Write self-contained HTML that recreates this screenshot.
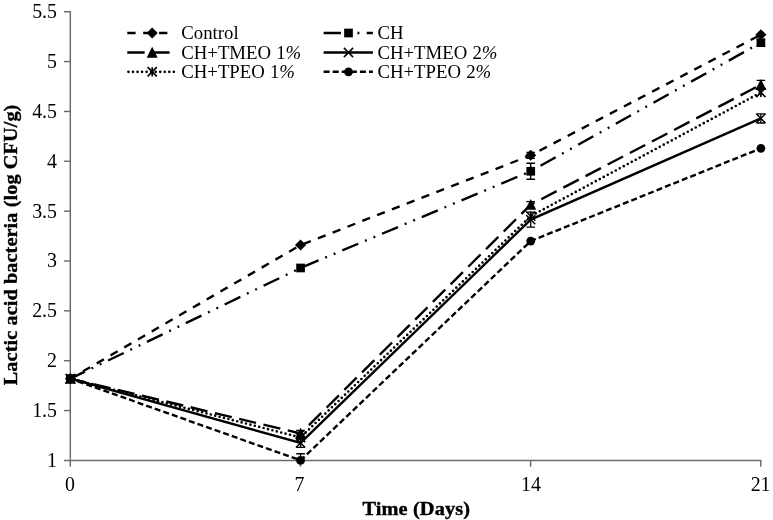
<!DOCTYPE html>
<html lang="en"><head><meta charset="utf-8"><title>Lactic acid bacteria chart</title>
<style>
html,body{margin:0;padding:0;background:#fff;}
body{width:773px;height:520px;overflow:hidden;}
svg{display:block;will-change:transform;filter:grayscale(1);}
text{font-family:"Liberation Serif","DejaVu Serif",serif;fill:#000;}
.tk text{font-size:19.9px;}
.lg{font-size:18.75px;word-spacing:0.5px;}
.tt{font-size:20.6px;font-weight:bold;stroke:#000;stroke-width:0.45px;}
.tx{font-size:19.5px;letter-spacing:0.1px;stroke-width:0.4px;}
</style></head><body>
<svg width="773" height="520" viewBox="0 0 773 520">
<rect width="773" height="520" fill="#fff"/>
<g stroke="#6c6c6c" stroke-width="1.45" fill="none">
<path d="M70.30 11.05V466.80"/>
<path d="M64.00 460.40H761.38"/>
<path d="M64.00 410.55H70.40"/>
<path d="M64.00 360.70H70.40"/>
<path d="M64.00 310.85H70.40"/>
<path d="M64.00 261.00H70.40"/>
<path d="M64.00 211.15H70.40"/>
<path d="M64.00 161.30H70.40"/>
<path d="M64.00 111.45H70.40"/>
<path d="M64.00 61.60H70.40"/>
<path d="M64.00 11.75H70.40"/>
<path d="M300.46 460.40V466.80"/>
<path d="M530.62 460.40V466.80"/>
<path d="M760.78 460.40V466.80"/>
</g>
<g class="tk">
<text x="57" y="466.80" text-anchor="end">1</text>
<text x="57" y="416.95" text-anchor="end">1.5</text>
<text x="57" y="367.10" text-anchor="end">2</text>
<text x="57" y="317.25" text-anchor="end">2.5</text>
<text x="57" y="267.40" text-anchor="end">3</text>
<text x="57" y="217.55" text-anchor="end">3.5</text>
<text x="57" y="167.70" text-anchor="end">4</text>
<text x="57" y="117.85" text-anchor="end">4.5</text>
<text x="57" y="68.00" text-anchor="end">5</text>
<text x="57" y="18.15" text-anchor="end">5.5</text>
<text x="69.90" y="491.1" text-anchor="middle">0</text>
<text x="299.56" y="491.1" text-anchor="middle">7</text>
<text x="531.02" y="491.1" text-anchor="middle">14</text>
<text x="760.58" y="491.1" text-anchor="middle">21</text>
</g>
<text class="tt tx" transform="translate(416.3 515.1) scale(1.045 1)" text-anchor="middle">Time (Days)</text>
<text class="tt tx" transform="translate(16.9 244.9) rotate(-90) scale(1.037 1)" text-anchor="middle">Lactic acid bacteria (log CFU/g)</text>
<polyline points="70.40,378.65 300.56,245.05 530.72,155.32 760.88,34.68" fill="none" stroke="#000" stroke-width="2.38" stroke-dasharray="8.28 7.61" stroke-dashoffset="1.3"/>
<polyline points="70.40,378.65 300.56,267.98 530.72,171.27 760.88,42.66" fill="none" stroke="#000" stroke-width="2.38" stroke-dasharray="17.36 7.30 1.90 7.30 1.90 7.37" stroke-dashoffset="1.3"/>
<polyline points="70.40,378.65 300.56,433.48 530.72,204.67 760.88,84.73" fill="none" stroke="#000" stroke-width="2.38" stroke-dasharray="17.36 7.61" stroke-dashoffset="1.3"/>
<polyline points="70.40,378.65 300.56,442.95 530.72,219.62 760.88,118.43" fill="none" stroke="#000" stroke-width="2.38"/>
<polyline points="70.40,378.65 300.56,437.47 530.72,216.13 760.88,92.51" fill="none" stroke="#000" stroke-width="2.65" stroke-dasharray="0 4.54" stroke-linecap="round" stroke-dashoffset="0.36"/>
<polyline points="70.40,378.65 300.56,460.40 530.72,241.06 760.88,148.34" fill="none" stroke="#000" stroke-width="2.38" stroke-dasharray="6.01 3.07" stroke-dashoffset="1.3"/>
<path d="M530.72 152.33V158.31M526.42 152.33H535.02M526.42 158.31H535.02" stroke="#000" stroke-width="1.35" fill="none"/>
<path d="M530.72 163.29V179.25M526.42 163.29H535.02M526.42 179.25H535.02" stroke="#000" stroke-width="1.35" fill="none"/>
<path d="M760.88 39.67V45.65M756.58 39.67H765.18M756.58 45.65H765.18" stroke="#000" stroke-width="1.35" fill="none"/>
<path d="M300.56 430.49V436.47M296.26 430.49H304.86M296.26 436.47H304.86" stroke="#000" stroke-width="1.35" fill="none"/>
<path d="M530.72 201.68V207.66M526.42 201.68H535.02M526.42 207.66H535.02" stroke="#000" stroke-width="1.35" fill="none"/>
<path d="M760.88 80.44V89.02M756.58 80.44H765.18M756.58 89.02H765.18" stroke="#000" stroke-width="1.35" fill="none"/>
<path d="M300.56 438.47V447.44M296.26 438.47H304.86M296.26 447.44H304.86" stroke="#000" stroke-width="1.35" fill="none"/>
<path d="M530.72 212.15V227.10M526.42 212.15H535.02M526.42 227.10H535.02" stroke="#000" stroke-width="1.35" fill="none"/>
<path d="M760.88 113.84V123.02M756.58 113.84H765.18M756.58 123.02H765.18" stroke="#000" stroke-width="1.35" fill="none"/>
<path d="M300.56 453.72V460.40M296.26 453.72H304.86" stroke="#000" stroke-width="1.35" fill="none"/>
<path d="M70.40 373.10L75.95 378.65L70.40 384.20L64.85 378.65Z" fill="#000"/>
<path d="M300.56 239.50L306.11 245.05L300.56 250.60L295.01 245.05Z" fill="#000"/>
<path d="M530.72 149.77L536.27 155.32L530.72 160.87L525.17 155.32Z" fill="#000"/>
<path d="M760.88 29.13L766.43 34.68L760.88 40.23L755.33 34.68Z" fill="#000"/>
<rect x="66.05" y="374.30" width="8.70" height="8.70" fill="#000"/>
<rect x="296.21" y="263.63" width="8.70" height="8.70" fill="#000"/>
<rect x="526.37" y="166.92" width="8.70" height="8.70" fill="#000"/>
<rect x="756.53" y="38.31" width="8.70" height="8.70" fill="#000"/>
<path d="M70.40 372.95L75.90 383.85L64.90 383.85Z" fill="#000"/>
<path d="M300.56 427.78L306.06 438.68L295.06 438.68Z" fill="#000"/>
<path d="M530.72 198.97L536.22 209.87L525.22 209.87Z" fill="#000"/>
<path d="M760.88 79.03L766.38 89.93L755.38 89.93Z" fill="#000"/>
<path d="M65.80 374.05L75.00 383.25M65.80 383.25L75.00 374.05" stroke="#000" stroke-width="1.5" fill="none"/>
<path d="M295.96 438.35L305.16 447.55M295.96 447.55L305.16 438.35" stroke="#000" stroke-width="1.5" fill="none"/>
<path d="M526.12 215.02L535.32 224.22M526.12 224.22L535.32 215.02" stroke="#000" stroke-width="1.5" fill="none"/>
<path d="M756.28 113.83L765.48 123.03M756.28 123.03L765.48 113.83" stroke="#000" stroke-width="1.5" fill="none"/>
<path d="M65.80 374.05L75.00 383.25M65.80 383.25L75.00 374.05M70.40 374.05L70.40 383.25" stroke="#000" stroke-width="1.65" fill="none"/>
<path d="M295.96 432.87L305.16 442.07M295.96 442.07L305.16 432.87M300.56 432.87L300.56 442.07" stroke="#000" stroke-width="1.65" fill="none"/>
<path d="M526.12 211.53L535.32 220.73M526.12 220.73L535.32 211.53M530.72 211.53L530.72 220.73" stroke="#000" stroke-width="1.65" fill="none"/>
<path d="M756.28 87.91L765.48 97.11M756.28 97.11L765.48 87.91M760.88 87.91L760.88 97.11" stroke="#000" stroke-width="1.65" fill="none"/>
<circle cx="70.40" cy="378.65" r="4.4" fill="#000"/>
<circle cx="300.56" cy="460.40" r="4.4" fill="#000"/>
<circle cx="530.72" cy="241.06" r="4.4" fill="#000"/>
<circle cx="760.88" cy="148.34" r="4.4" fill="#000"/>
<path d="M127.3 33.0H174.8" fill="none" stroke="#000" stroke-width="2.38" stroke-dasharray="8.28 7.61"/>
<path d="M152.20 27.45L157.75 33.00L152.20 38.55L146.65 33.00Z" fill="#000"/>
<text class="lg" x="181.3" y="39.00">Control</text>
<path d="M127.3 52.5H174.8" fill="none" stroke="#000" stroke-width="2.38" stroke-dasharray="17.36 7.61"/>
<path d="M152.20 46.80L157.70 57.70L146.70 57.70Z" fill="#000"/>
<text class="lg" x="181.3" y="58.50">CH+TMEO 1<tspan font-style="italic">%</tspan></text>
<path d="M127.3 71.8H174.8" fill="none" stroke="#000" stroke-width="2.65" stroke-dasharray="0 4.54" stroke-linecap="round" stroke-dashoffset="-1.14"/>
<path d="M147.60 67.20L156.80 76.40M147.60 76.40L156.80 67.20M152.20 67.20L152.20 76.40" stroke="#000" stroke-width="1.65" fill="none"/>
<text class="lg" x="181.3" y="77.80">CH+TPEO 1<tspan font-style="italic">%</tspan></text>
<path d="M323.6 33.0H372.9" fill="none" stroke="#000" stroke-width="2.38" stroke-dasharray="17.36 7.30 1.90 7.30 1.90 7.37"/>
<rect x="344.15" y="28.65" width="8.70" height="8.70" fill="#000"/>
<text class="lg" x="377.5" y="39.00">CH</text>
<path d="M323.6 52.5H372.9" fill="none" stroke="#000" stroke-width="2.38"/>
<path d="M343.90 47.90L353.10 57.10M343.90 57.10L353.10 47.90" stroke="#000" stroke-width="1.5" fill="none"/>
<text class="lg" x="377.5" y="58.50">CH+TMEO 2<tspan font-style="italic">%</tspan></text>
<path d="M323.6 71.8H372.9" fill="none" stroke="#000" stroke-width="2.38" stroke-dasharray="6.01 3.07"/>
<circle cx="348.50" cy="71.80" r="4.4" fill="#000"/>
<text class="lg" x="377.5" y="77.80">CH+TPEO 2<tspan font-style="italic">%</tspan></text>
</svg>
</body></html>
